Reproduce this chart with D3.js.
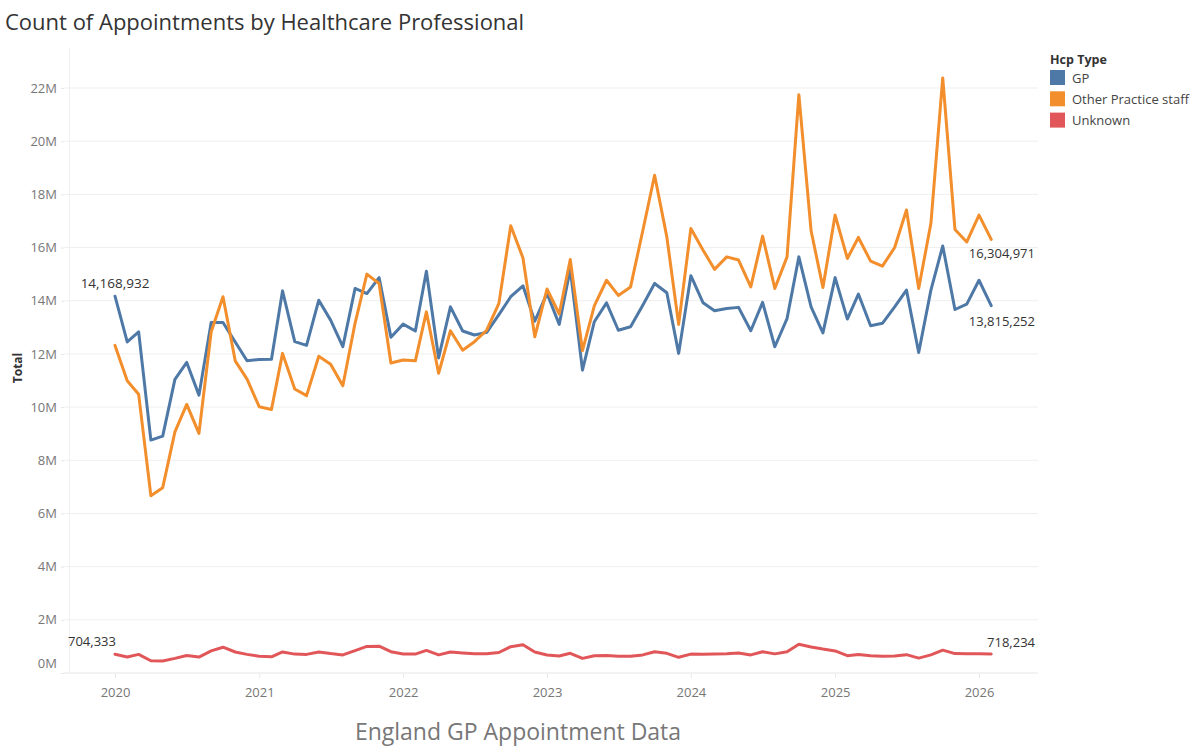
<!DOCTYPE html>
<html>
<head>
<meta charset="utf-8">
<script src="https://cdn.jsdelivr.net/npm/d3@7"></script>
<style>
  body { margin: 0; background: #fff; }
  svg { display: block; font-family: "Open Sans", "Noto Sans", sans-serif; }
</style>
</head>
<body>
<svg id="chart" width="1200" height="746"></svg>
<script>
// ---- data ----
const startMonth = "2020-01";
const seriesNames = ["GP", "Other Practice staff", "Unknown"];
const seriesColors = ["#4e79a7", "#f28e2b", "#e15759"];

const gpValues = [
  14168932, 12450000, 12830000, 8760000, 8910000, 11040000, 11680000, 10450000, 13180000, 13180000, 12450000, 11740000,
  11790000, 11800000, 14370000, 12460000, 12320000, 14020000, 13270000, 12270000, 14460000, 14270000, 14870000, 12630000,
  13120000, 12860000, 15110000, 11850000, 13770000, 12860000, 12710000, 12810000, 13480000, 14150000, 14560000, 13230000,
  14270000, 13110000, 15190000, 11390000, 13210000, 13920000, 12890000, 13020000, 13830000, 14650000, 14300000, 12020000,
  14940000, 13920000, 13620000, 13710000, 13750000, 12870000, 13940000, 12270000, 13330000, 15650000, 13770000, 12790000,
  14870000, 13310000, 14250000, 13060000, 13150000, 13770000, 14400000, 12050000, 14400000, 16060000, 13670000, 13870000,
  14770000, 13815252
];
const otherValues = [
  12320000, 10990000, 10480000, 6670000, 6970000, 9070000, 10100000, 9010000, 12830000, 14150000, 11740000, 11050000,
  10010000, 9910000, 12020000, 10680000, 10430000, 11910000, 11610000, 10800000, 13150000, 15000000, 14650000, 11660000,
  11770000, 11740000, 13580000, 11270000, 12870000, 12140000, 12460000, 12890000, 13900000, 16820000, 15610000, 12640000,
  14440000, 13500000, 15550000, 12120000, 13810000, 14770000, 14200000, 14520000, 16630000, 18720000, 16400000, 13110000,
  16720000, 15900000, 15180000, 15650000, 15530000, 14520000, 16430000, 14460000, 15650000, 21750000, 16630000, 14500000,
  17220000, 15590000, 16380000, 15490000, 15300000, 16000000, 17410000, 14460000, 16910000, 22380000, 16680000, 16210000,
  17220000, 16304971
];
const unknownValues = [
  704333, 600000, 700000, 460000, 450000, 550000, 660000, 600000, 830000, 970000, 790000, 700000,
  630000, 610000, 790000, 710000, 700000, 790000, 730000, 680000, 840000, 1000000, 1010000, 800000,
  715000, 710000, 850000, 680000, 790000, 750000, 720000, 720000, 770000, 990000, 1060000, 790000,
  680000, 640000, 740000, 550000, 650000, 660000, 630000, 630000, 680000, 800000, 740000, 590000,
  710000, 705000, 710000, 720000, 750000, 680000, 800000, 720000, 800000, 1080000, 980000, 900000,
  830000, 650000, 700000, 650000, 630000, 640000, 690000, 560000, 680000, 860000, 730000, 720000,
  720000, 718234
];
const yTickValues = [0, 2e6, 4e6, 6e6, 8e6, 10e6, 12e6, 14e6, 16e6, 18e6, 20e6, 22e6];
const xTickYears = [2020, 2021, 2022, 2023, 2024, 2025, 2026];

// ---- build ----
const parseMonth = d3.utcParse("%Y-%m");
const start = parseMonth(startMonth);
const months = gpValues.map((_, i) => d3.utcMonth.offset(start, i));
const allSeries = [gpValues, otherValues, unknownValues].map((vals, k) => ({
  name: seriesNames[k], color: seriesColors[k],
  points: vals.map((v, i) => ({ date: months[i], value: v }))
}));

const svg = d3.select("#chart");

const x = d3.scaleUtc()
  .domain([new Date(Date.UTC(2020, 0, 1)), new Date(Date.UTC(2026, 0, 1))])
  .range([115, 979]);
const y = d3.scaleLinear().domain([0, 22e6]).range([673, 88]);

const plotLeft = 64, plotRight = 1038, plotTop = 48, plotBottom = 673;

// Title
svg.append("text")
  .attr("x", 5).attr("y", 30)
  .attr("font-size", 22).attr("fill", "#333")
  .text("Count of Appointments by Healthcare Professional");

// gridlines
svg.append("g").selectAll("line")
  .data(yTickValues).join("line")
  .attr("x1", plotLeft).attr("x2", plotRight)
  .attr("y1", d => y(d)).attr("y2", d => y(d))
  .attr("stroke", d => d === 0 ? "#e6e6e6" : "#efefef").attr("stroke-width", 1);

// y axis line
svg.append("line")
  .attr("x1", 69.5).attr("x2", 69.5).attr("y1", plotTop).attr("y2", plotBottom)
  .attr("stroke", "#f0f0f0");

// y axis
const yAxis = d3.axisLeft(y).tickValues(yTickValues)
  .tickFormat(d => (d / 1e6) + "M").tickSize(3).tickPadding(4);
const yg = svg.append("g").attr("transform", "translate(64,0)").call(yAxis);
yg.select(".domain").remove();
yg.selectAll(".tick line").attr("stroke", "#e6e6e6");
yg.selectAll(".tick text").attr("font-size", 13).attr("fill", "#777")
  .attr("font-family", "'Open Sans', 'Noto Sans', sans-serif")
  .attr("dy", d => d === 0 ? "-0.4em" : "0.32em");

// x axis
const xAxis = d3.axisBottom(x)
  .tickValues(xTickYears.map(yr => new Date(Date.UTC(yr, 0, 1))))
  .tickFormat(d3.utcFormat("%Y")).tickSize(5).tickPadding(10);
const xg = svg.append("g").attr("transform", `translate(0,${plotBottom})`).call(xAxis);
xg.select(".domain").remove();
xg.selectAll(".tick line").attr("stroke", "#eaeaea");
xg.selectAll(".tick text").attr("font-size", 13).attr("fill", "#777")
  .attr("font-family", "'Open Sans', 'Noto Sans', sans-serif");

// y label
svg.append("text")
  .attr("transform", "translate(22,368) rotate(-90)")
  .attr("text-anchor", "middle").attr("font-size", 12).attr("font-weight", "bold")
  .attr("fill", "#333").text("Total");

// x title
svg.append("text")
  .attr("x", 518).attr("y", 740).attr("text-anchor", "middle")
  .attr("font-size", 23).attr("fill", "#777")
  .text("England GP Appointment Data");

// lines
const line = d3.line().x(d => x(d.date)).y(d => y(d.value));
svg.append("g").selectAll("path")
  .data(allSeries).join("path")
  .attr("d", d => line(d.points))
  .attr("fill", "none").attr("stroke", d => d.color)
  .attr("stroke-width", 3).attr("stroke-linejoin", "round").attr("stroke-linecap", "round");

// annotations
const fmt = d3.format(",");
const ann = svg.append("g").attr("font-size", 13).attr("fill", "#333");
const gpFirst = allSeries[0].points[0];
const gpLast = allSeries[0].points[allSeries[0].points.length - 1];
const otLast = allSeries[1].points[allSeries[1].points.length - 1];
const unFirst = allSeries[2].points[0];
const unLast = allSeries[2].points[allSeries[2].points.length - 1];
ann.append("text").attr("x", x(gpFirst.date)).attr("y", y(gpFirst.value) - 8)
  .attr("text-anchor", "middle").attr("font-size", 13.5).text(fmt(gpFirst.value));
ann.append("text").attr("x", 1035).attr("y", y(otLast.value) + 19)
  .attr("text-anchor", "end").text(fmt(otLast.value));
ann.append("text").attr("x", 1035).attr("y", y(gpLast.value) + 20)
  .attr("text-anchor", "end").text(fmt(gpLast.value));
ann.append("text").attr("x", 68).attr("y", y(unFirst.value) - 8)
  .attr("text-anchor", "start").text(fmt(unFirst.value));
ann.append("text").attr("x", 1035).attr("y", y(unLast.value) - 7)
  .attr("text-anchor", "end").text(fmt(unLast.value));

// legend
const lg = svg.append("g").attr("transform", "translate(1050,0)");
lg.append("text").attr("x", 0).attr("y", 64).attr("font-size", 12.5)
  .attr("font-weight", "bold").attr("fill", "#333").text("Hcp Type");
const items = lg.selectAll("g.item").data(allSeries).join("g")
  .attr("class", "item").attr("transform", (d, i) => `translate(0,${70 + i * 21.3})`);
items.append("rect").attr("width", 15).attr("height", 15).attr("fill", d => d.color);
items.append("text").attr("x", 22).attr("y", 12.5).attr("font-size", 13)
  .attr("fill", "#444").text(d => d.name);
</script>
</body>
</html>
